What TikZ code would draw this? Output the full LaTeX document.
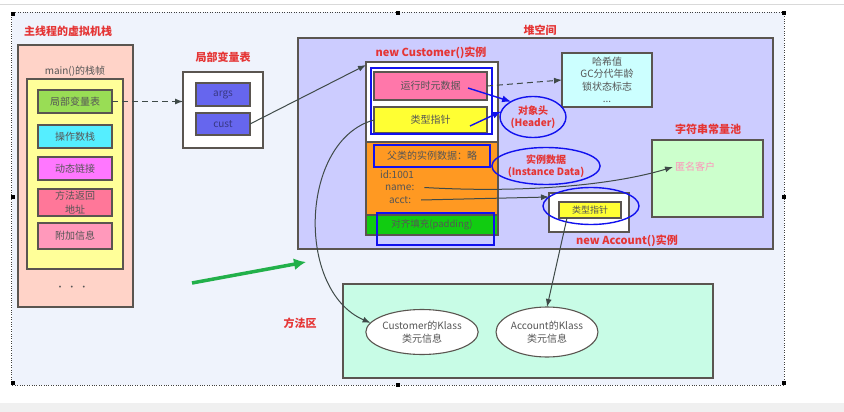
\documentclass[tikz,border=0pt]{standalone}
\usepackage{fontspec}
\setmainfont{Noto Sans CJK SC}
\usepackage{tikz}
\usetikzlibrary{arrows.meta}
\usetikzlibrary{positioning}
\usetikzlibrary{shapes.geometric}
\definecolor{bgblue}{HTML}{EFF3FC}
\definecolor{boxline}{HTML}{5A5550}
\definecolor{peach}{HTML}{FFD3C8}
\definecolor{paleyellow}{HTML}{FFFF99}
\definecolor{lvtgreen}{HTML}{99DD55}
\definecolor{opcyan}{HTML}{55EEFF}
\definecolor{linkmagenta}{HTML}{FF77FF}
\definecolor{retpink}{HTML}{FF7799}
\definecolor{extrapink}{HTML}{FF99BB}
\definecolor{slotblue}{HTML}{6666EE}
\definecolor{heaplav}{HTML}{CCCCFF}
\definecolor{metapink}{HTML}{FF77AA}
\definecolor{ptryellow}{HTML}{FFFF33}
\definecolor{dataorange}{HTML}{FF9922}
\definecolor{padgreen}{HTML}{11CC11}
\definecolor{hashcyan}{HTML}{CCFFFF}
\definecolor{poolgreen}{HTML}{CCFFCC}
\definecolor{methodmint}{HTML}{C8FCE6}
\definecolor{markblue}{HTML}{1111EE}
\definecolor{titlered}{HTML}{E53535}
\definecolor{arrowgray}{HTML}{3F4A48}
\definecolor{textgray}{HTML}{555555}
\definecolor{pointgreen}{HTML}{22B04A}
\tikzset{
% Define standard arrow tip
>={Latex[length=8pt, width=6pt]},
title/.style={text=titlered, font=\bfseries\fontsize{11}{13}\selectfont},
item/.style={rectangle, draw=boxline, line width=1.1pt, text=textgray,
  font=\fontsize{10}{11}\selectfont, minimum width=74, minimum height=23},
bluemark/.style={draw=markblue, line width=1.4pt},
link/.style={draw=arrowgray, line width=1pt}
}

\begin{document}
\begin{tikzpicture}[x=1pt, y=-1pt, inner sep=0, outer sep=0]
  \useasboundingbox (0,0) rectangle (844,412);
  \fill[white] (0,0) rectangle (844,412);
  \fill[bgblue] (12,12) rectangle (784,385);
  \fill[black!6] (0,403) rectangle (844,412);
  \draw[black!15] (0,4) -- (844,4);
  \draw[dotted, black!75] (11,12) rectangle (784,385);
  \foreach \hx/\hy in {13/14, 398/13, 784/13, 13/197, 784/197, 13/383, 398/385, 784/383}
    \fill (\hx-2,\hy-2) rectangle (\hx+2,\hy+2);

  % virtual machine stack
  \node[title, anchor=west] (stacktitle) at (24,31) {主线程的虚拟机栈};
  \node[rectangle, draw=boxline, line width=1.1pt, fill=peach,
    minimum width=115, minimum height=262] (frame) at (75.5,176) {};
  \node[text=textgray, font=\fontsize{10}{11}\selectfont] (framelabel) at (75,71) {main()的栈帧};
  \node[rectangle, draw=boxline, line width=1.1pt, fill=paleyellow,
    minimum width=96, minimum height=190] (frameinner) at (75,174) {};
  \node[item, fill=lvtgreen] (lvt) at (75,101.5) {局部变量表};
  \node[item, fill=opcyan] (opstack) at (75,136.5) {操作数栈};
  \node[item, fill=linkmagenta] (dynlink) at (75,168.5) {动态链接};
  \node[item, fill=retpink, minimum height=27, align=center,
    font=\fontsize{10}{14}\selectfont] (retaddr) at (75,202.5) {方法返回\\地址};
  \node[item, fill=extrapink, minimum height=26] (extra) at (75,236) {附加信息};
  \node[text=textgray, font=\fontsize{9}{10}\selectfont] (dots) at (72,288) {•\,\,•\,\,•};

  % local variable table
  \node[title] (lvttitle) at (223,57) {局部变量表};
  \node[rectangle, draw=boxline, line width=1.1pt, fill=white,
    minimum width=80, minimum height=76] (lvtbox) at (223,110) {};
  \node[item, fill=slotblue, text=black!45!slotblue, minimum width=54] (args) at (223,94.5) {args};
  \node[item, fill=slotblue, text=black!45!slotblue, minimum width=54, minimum height=22] (cust) at (223,124) {cust};

  % heap
  \node[title] (heaptitle) at (540,30) {堆空间};
  \node[rectangle, draw=boxline, line width=1.1pt, fill=heaplav,
    minimum width=475, minimum height=211] (heap) at (535.5,143.5) {};
  \node[title] (custtitle) at (431,53) {new Customer()实例};
  \node[rectangle, draw=boxline, line width=1.1pt, fill=white,
    minimum width=132, minimum height=80] (custhead) at (432,102) {};
  \node[rectangle, draw=boxline, line width=1.1pt, fill=dataorange,
    minimum width=132, minimum height=73] (custdata) at (432,178.5) {};
  \node[rectangle, draw=boxline, line width=1.1pt, fill=padgreen, text=textgray,
    font=\fontsize{9.5}{11}\selectfont, minimum width=132, minimum height=20] (custpad) at (432,225) {对齐填充(padding)};
  \node[item, fill=metapink, minimum width=113, minimum height=28] (rtmeta) at (430.5,86) {运行时元数据};
  \node[item, fill=ptryellow, minimum width=113, minimum height=26] (klassptr) at (430.5,120) {类型指针};
  \node[rectangle, bluemark, minimum width=121, minimum height=66] (headmark) at (431.5,101) {};
  \node[rectangle, bluemark, text=textgray, font=\fontsize{10}{11}\selectfont,
    minimum width=116, minimum height=22] (superdata) at (432,156) {父类的实例数据：略};
  \node[anchor=west, text=textgray, font=\fontsize{10}{11}\selectfont] (idlbl) at (380,175) {id:1001};
  \node[anchor=west, text=textgray, font=\fontsize{10}{11}\selectfont] (namelbl) at (385,187.5) {name:};
  \node[anchor=west, text=textgray, font=\fontsize{10}{11}\selectfont] (acctlbl) at (389,200) {acct:};
  \node[rectangle, bluemark, minimum width=117, minimum height=32] (padmark) at (435.5,229) {};

  \node[rectangle, draw=boxline, line width=1.1pt, fill=hashcyan, text=textgray, align=center,
    font=\fontsize{10}{12.3}\selectfont, minimum width=90, minimum height=54] (hash) at (607,80) {哈希值\\GC分代年龄\\锁状态标志\\...};
  \node[ellipse, bluemark, title, align=center, font=\bfseries\fontsize{10}{12}\selectfont,
    minimum width=66, minimum height=41] (headoval) at (533,117) {对象头\\(Header)};
  \node[ellipse, bluemark, title, align=center, font=\bfseries\fontsize{10}{12}\selectfont,
    minimum width=100, minimum height=37] (dataoval) at (546,166) {实例数据\\(Instance Data)};

  \node[title] (pooltitle) at (708,129) {字符串常量池};
  \node[rectangle, draw=boxline, line width=1.1pt, fill=poolgreen,
    minimum width=111, minimum height=77] (pool) at (707.5,178.5) {};
  \node[text=metapink!80!white, font=\fontsize{10}{11}\selectfont] (poolstr) at (695,167) {匿名客户};

  \node[rectangle, draw=boxline, line width=1.1pt, fill=white,
    minimum width=80, minimum height=39] (acctinst) at (589,212.5) {};
  \node[item, fill=ptryellow, minimum width=62, minimum height=16,
    font=\fontsize{9}{10}\selectfont] (acctptr) at (590,210) {类型指针};
  \node[ellipse, bluemark, minimum width=96, minimum height=37] (acctoval) at (591,206) {};
  \node[title] (accttitle) at (627,241) {new Account()实例};

  % method area
  \node[title] (methodtitle) at (300,323) {方法区};
  \node[rectangle, draw=boxline, line width=1.1pt, fill=methodmint,
    minimum width=370, minimum height=94] (method) at (528,331) {};
  \node[ellipse, draw=boxline, line width=1.1pt, fill=white, align=center, text=textgray,
    font=\fontsize{10}{12.5}\selectfont, minimum width=110, minimum height=45] (custklass) at (422,332) {Customer的Klass\\类元信息};
  \node[ellipse, draw=boxline, line width=1.1pt, fill=white, align=center, text=textgray,
    font=\fontsize{10}{12.5}\selectfont, minimum width=100, minimum height=50] (acctklass) at (547,332) {Account的Klass\\类元信息};

  % connectors
  \draw[link, ->, dashed, dash pattern=on 6pt off 4pt] (lvt.east) -- (lvt.east -| lvtbox.west);
  \draw[link, ->] (cust.east) -- ([yshift=-3pt]custhead.north west);
  \draw[link, ->, dashed, dash pattern=on 6pt off 4pt] (rtmeta.east) -- (hash.west);
  \draw[bluemark, ->, >={Latex[length=9pt, width=7pt]}] ([xshift=-19pt, yshift=-2pt]rtmeta.east) -- (headoval.145);
  \draw[bluemark, ->, >={Latex[length=9pt, width=7pt]}] ([xshift=-17pt, yshift=-6pt]klassptr.east) -- (headoval.170);
  \draw[link, ->] ([xshift=10pt]namelbl.east) .. controls (520,193) and (610,186) .. ([xshift=-2pt]poolstr.west);
  \draw[link, ->] ([xshift=10pt]acctlbl.east) -- ([yshift=-4pt]acctinst.north west);
  \draw[link, ->] (klassptr.west) .. controls (300,140) and (295,290) .. (custklass.170);
  \draw[link, ->] ([xshift=-23pt]acctptr.south) -- (acctklass.north);
  \coordinate (gstart) at (192,283);
  \coordinate (gend) at (306,262);
  \draw[draw=pointgreen, line width=3.5pt, ->, >={Latex[length=12pt, width=12pt]}] (gstart) -- (gend);
\end{tikzpicture}
\end{document}
